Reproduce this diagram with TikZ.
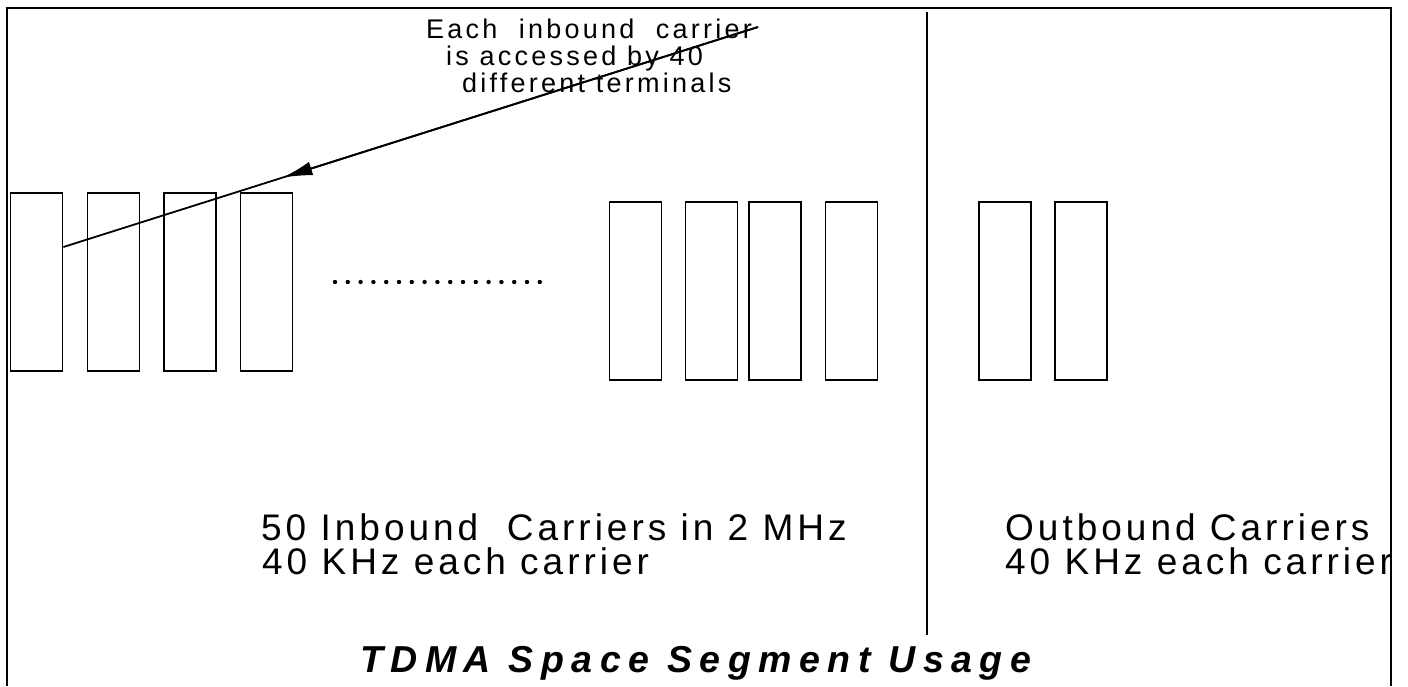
\documentclass[tikz,border=0pt]{standalone}
\usepackage{fontspec}
\setmainfont{Liberation Sans}
\newfontfamily\lblfont[LetterSpace=10.8]{Liberation Sans}
\newfontfamily\notefont[LetterSpace=12]{Liberation Sans}
\newfontfamily\titlefont[LetterSpace=20]{Liberation Sans}
\usetikzlibrary{arrows.meta,calc}
\begin{document}
\begin{tikzpicture}[x=1pt,y=-1pt,
  carrier/.style={draw,line width=1.8pt,minimum width=52pt,minimum height=178pt,inner sep=0pt},
  lbl/.style={anchor=base west,inner sep=0pt,font=\lblfont\fontsize{37}{37}\selectfont},
  note/.style={anchor=base west,inner sep=0pt,font=\notefont\fontsize{27}{27}\selectfont},
  ttl/.style={anchor=base west,inner sep=0pt,font=\titlefont\bfseries\itshape\fontsize{37.5}{37.5}\selectfont},
  thinline/.style={line width=1.8pt}]
\useasboundingbox (0,0) rectangle (1408,686);
% frame
\draw[line width=2.2pt] (7,686) -- (7,8) -- (1391,8) -- (1391,686);
% inbound carriers
\node[carrier] (l1) at (36.5,282) {};
\node[carrier] (l2) at (113.5,282) {};
\node[carrier] (l3) at (190,282) {};
\node[carrier] (l4) at (266.5,282) {};
\node[carrier] (r1) at (635.5,291) {};
\node[carrier] (r2) at (711.5,291) {};
\node[carrier] (r3) at (775,291) {};
\node[carrier] (r4) at (851.5,291) {};
% outbound carriers
\node[carrier] (o1) at (1005,291) {};
\node[carrier] (o2) at (1081,291) {};
% ellipsis dots
\foreach \i in {0,...,16} \fill (335+12.8*\i,282) circle (2.2pt);
% divider
\coordinate (vt) at (927,12);
\coordinate (vb) at (927,635);
\draw[thinline] (vt) -- (vb);
% annotation arrow
\coordinate (as) at (758,27);
\coordinate (ae) at ($(l1.east)+(0,-35)$);
\draw[thinline] (as) -- (ae);
\draw[thinline,-{Latex[length=30pt,width=14pt]}] (as) -- ($(as)!0.6846!(ae)$);
% texts
\node[note] (t1) at (426,38) {Each\ \ inbound\ \ carrier};
\node[note] (t2) at (446,65) {is accessed by 40};
\node[note] (t3) at (462,92) {different terminals};
\node[lbl] (i1) at (261,540) {50 Inbound\ \ Carriers in 2 MHz};
\node[lbl] (i2) at (262,574) {40 KHz each carrier};
\node[lbl] (u1) at (1005,540) {Outbound Carriers};
\begin{scope}
\clip (0,0) rectangle (1390,686);
\node[lbl] (u2) at (1005,574) {40 KHz each carrier};
\end{scope}
\node[ttl] (ttl) at (360,672) {TDMA Space Segment Usage};
\end{tikzpicture}
\end{document}
